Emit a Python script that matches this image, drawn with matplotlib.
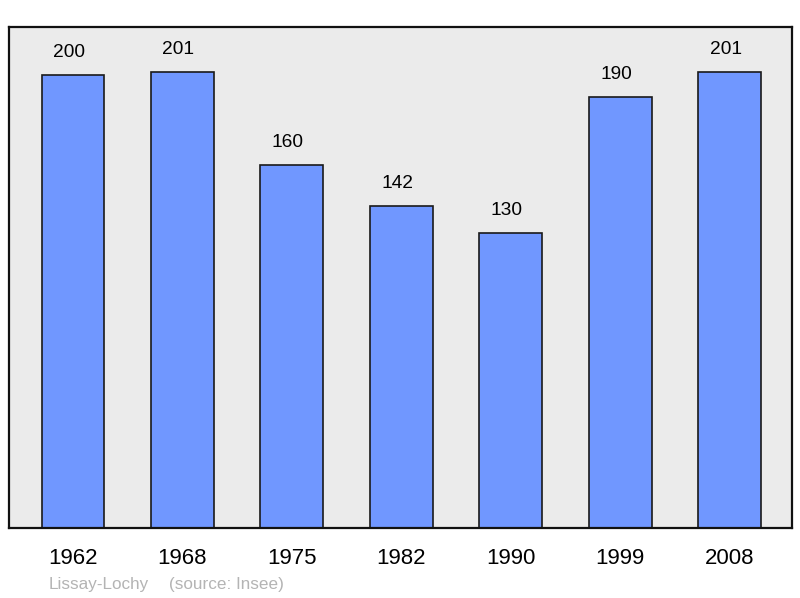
import matplotlib
matplotlib.use('Agg')
import matplotlib.pyplot as plt

# --- Data ---
years = ['1962', '1968', '1975', '1982', '1990', '1999', '2008']
population = [200, 201, 160, 142, 130, 190, 201]
commune = 'Lissay-Lochy'
source = '(source: Insee)'

plt.rcParams['font.family'] = ['Liberation Sans', 'DejaVu Sans']

fig = plt.figure(figsize=(8, 5.98), dpi=100)
ax = fig.add_axes([9 / 800, 1 - 528 / 598, 783 / 800, 501 / 598])
ax.set_facecolor('#ebebeb')

x = range(len(years))
ax.bar(x, population, width=0.575, color='#7097ff', edgecolor='#1a1a1a', linewidth=1.2, zorder=2)
for xi, v in zip(x, population):
    ax.text(xi - 0.037, v + 6.2, str(v), ha='center', va='bottom', fontsize=13.8)

ax.set_xlim(-0.585, 6.57)
ax.set_ylim(0, 221)
ax.set_xticks(list(x))
ax.set_xticklabels(years, fontsize=16)
ax.tick_params(axis='x', length=0, pad=14.5)
ax.set_yticks([])
for s in ax.spines.values():
    s.set_linewidth(1.6)
    s.set_color('#111111')

fig.text(49 / 800, 1 - 584 / 598, commune, color='#b4b4b4',
         fontsize=12.3, ha='left', va='center')
fig.text(169 / 800, 1 - 584 / 598, source, color='#b4b4b4',
         fontsize=12.3, ha='left', va='center')

plt.savefig('out.png', dpi=100)
